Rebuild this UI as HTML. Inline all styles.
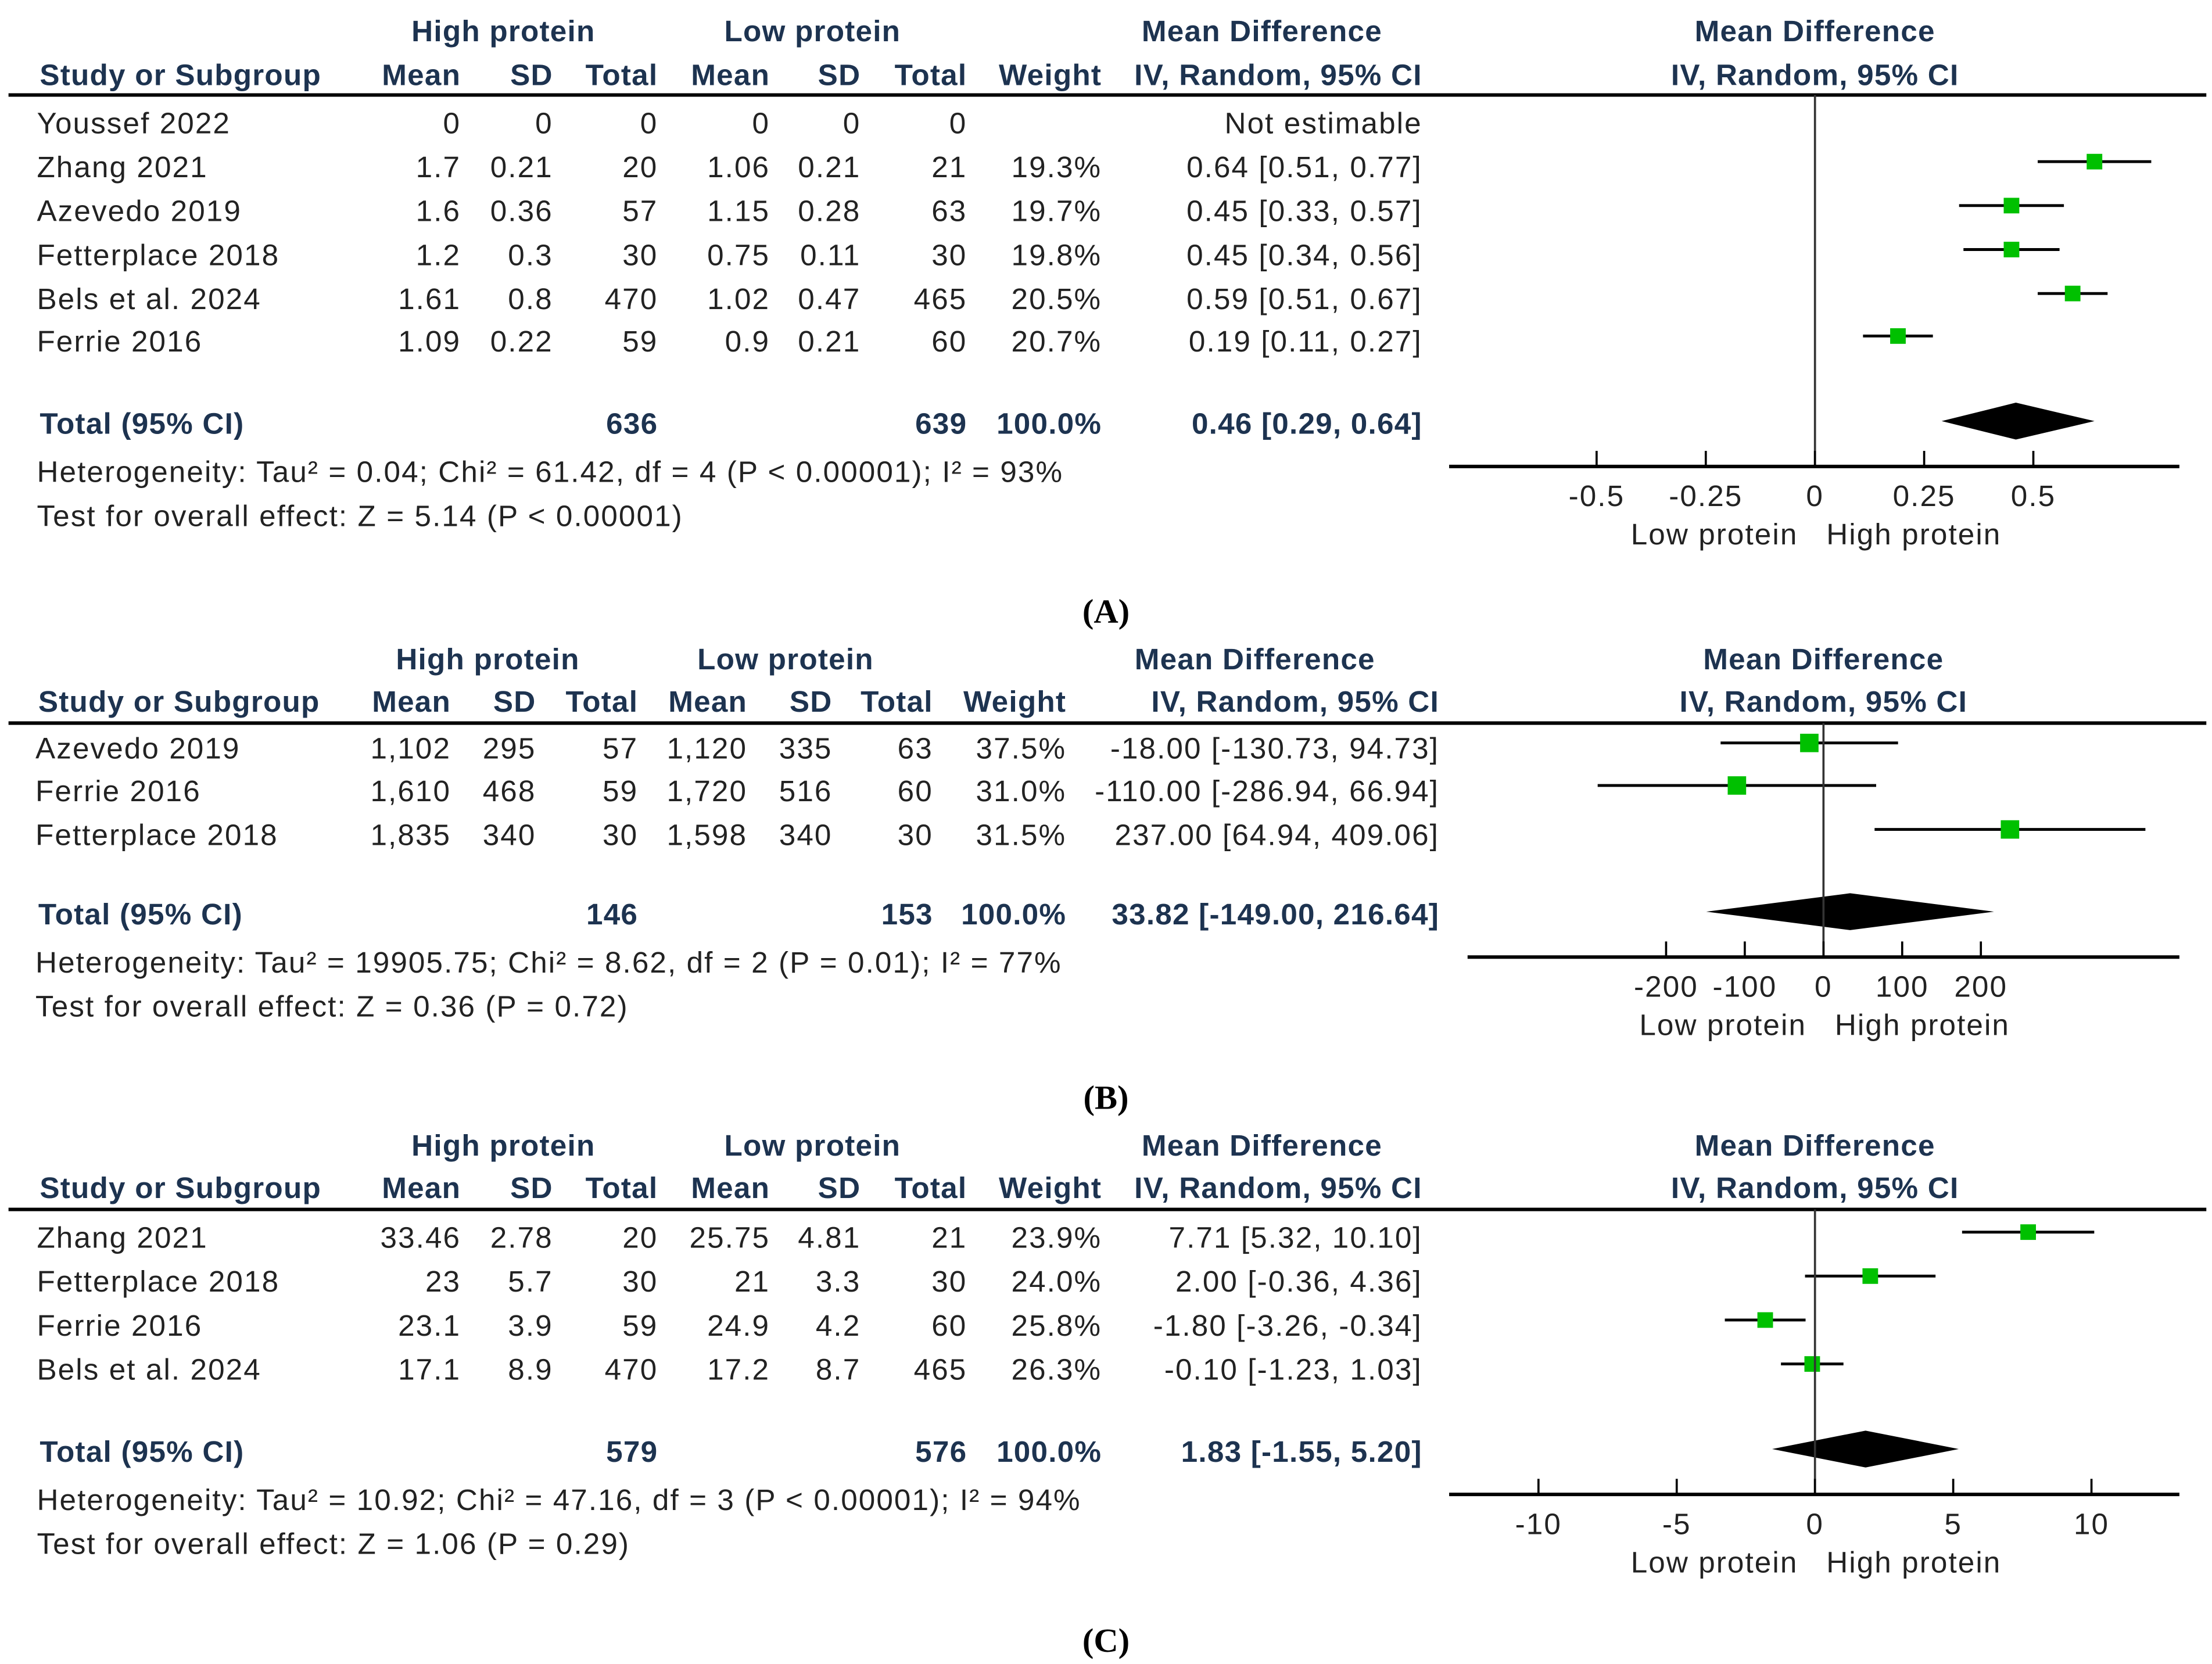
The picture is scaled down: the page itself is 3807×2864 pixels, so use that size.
<!DOCTYPE html>
<html><head><meta charset="utf-8"><style>
html,body{margin:0;padding:0;background:#fff;}
svg{display:block;}
text{font-family:"Liberation Sans",Arial,sans-serif;}
.h{font-weight:bold;fill:#1d3350;font-size:21px;letter-spacing:0.5px;}
.b{fill:#222;font-size:21px;letter-spacing:0.85px;}
.t{font-weight:bold;fill:#1d3350;font-size:21px;letter-spacing:0.5px;}
.cap{font-family:"Liberation Serif",serif;font-size:24px;font-weight:bold;fill:#000;}
</style></head><body>
<svg id="fig" width="3807" height="2864" viewBox="0 0 1560 1173.6" preserveAspectRatio="none" xmlns="http://www.w3.org/2000/svg"></svg>
<script>
// ---- Panel A data ----
const studiesA = ["Youssef 2022","Zhang 2021","Azevedo 2019","Fetterplace 2018","Bels et al. 2024","Ferrie 2016"];
const tableA = [["0","0","0","0","0","0","","Not estimable"],["1.7","0.21","20","1.06","0.21","21","19.3%","0.64 [0.51, 0.77]"],["1.6","0.36","57","1.15","0.28","63","19.7%","0.45 [0.33, 0.57]"],["1.2","0.3","30","0.75","0.11","30","19.8%","0.45 [0.34, 0.56]"],["1.61","0.8","470","1.02","0.47","465","20.5%","0.59 [0.51, 0.67]"],["1.09","0.22","59","0.9","0.21","60","20.7%","0.19 [0.11, 0.27]"]];
const estA = [null,0.64,0.45,0.45,0.59,0.19];
const lowA = [null,0.51,0.33,0.34,0.51,0.11];
const highA = [null,0.77,0.57,0.56,0.67,0.27];
const totalA = [0.46,0.29,0.64];
const ticksA = [-0.5,-0.25,0,0.25,0.5];
const tickLabelsA = ["-0.5","-0.25","0","0.25","0.5"];
// ---- Panel B data ----
const studiesB = ["Azevedo 2019","Ferrie 2016","Fetterplace 2018"];
const tableB = [["1,102","295","57","1,120","335","63","37.5%","-18.00 [-130.73, 94.73]"],["1,610","468","59","1,720","516","60","31.0%","-110.00 [-286.94, 66.94]"],["1,835","340","30","1,598","340","30","31.5%","237.00 [64.94, 409.06]"]];
const estB = [-18,-110,237];
const lowB = [-130.73,-286.94,64.94];
const highB = [94.73,66.94,409.06];
const totalB = [33.82,-149.00,216.64];
const ticksB = [-200,-100,0,100,200];
const tickLabelsB = ["-200","-100","0","100","200"];
// ---- Panel C data ----
const studiesC = ["Zhang 2021","Fetterplace 2018","Ferrie 2016","Bels et al. 2024"];
const tableC = [["33.46","2.78","20","25.75","4.81","21","23.9%","7.71 [5.32, 10.10]"],["23","5.7","30","21","3.3","30","24.0%","2.00 [-0.36, 4.36]"],["23.1","3.9","59","24.9","4.2","60","25.8%","-1.80 [-3.26, -0.34]"],["17.1","8.9","470","17.2","8.7","465","26.3%","-0.10 [-1.23, 1.03]"]];
const estC = [7.71,2.00,-1.80,-0.10];
const lowC = [5.32,-0.36,-3.26,-1.23];
const highC = [10.10,4.36,-0.34,1.03];
const totalC = [1.83,-1.55,5.20];
const ticksC = [-10,-5,0,5,10];
const tickLabelsC = ["-10","-5","0","5","10"];

const svg = document.getElementById('fig');
const NS = "http://www.w3.org/2000/svg";
function mk(tag, attrs, parent){const e=document.createElementNS(NS,tag);for(const k in attrs)e.setAttribute(k,attrs[k]);(parent||svg).appendChild(e);return e;}
function txt(x,y,s,cls,anchor,parent){const e=mk('text',{x:x,y:y,'class':cls,'text-anchor':anchor||'start'},parent);e.textContent=s;return e;}

function panel(cfg){
  const g=mk('g',{});
  
  
  const c=cfg.cols, y1=cfg.hy1, y2=cfg.hy2;
  txt(cfg.hpCenter,y1+7,"High protein","h","middle",g);
  txt(cfg.lpCenter,y1+7,"Low protein","h","middle",g);
  txt(cfg.mdCenter,y1+7,"Mean Difference","h","middle",g);
  txt(cfg.zeroX,y1+7,"Mean Difference","h","middle",g);
  txt(cfg.studyX,y2+7,"Study or Subgroup","h","start",g);
  const hdr=["Mean","SD","Total","Mean","SD","Total","Weight","IV, Random, 95% CI"];
  hdr.forEach((h,i)=>txt(c[i],y2+7,h,"h","end",g));
  txt(cfg.zeroX,y2+7,"IV, Random, 95% CI","h","middle",g);
  const hl=mk('line',{x1:6,x2:1556,y1:cfg.lineY,y2:cfg.lineY,stroke:'#000','stroke-width':2.5},g);
  
  
  const sx=v=>cfg.zeroX+v*cfg.ppu;
  cfg.studies.forEach((s,r)=>{
    const y=cfg.rowY[r];
    const rg=mk('g',{},g);
    
    
    txt(cfg.studyX-2,y+7,s,"b","start",rg);
    cfg.table[r].forEach((v,i)=>{if(v!=="")txt(c[i],y+7,v,"b","end",rg);});
    if(cfg.est[r]!==null){
      const l=mk('line',{x1:sx(cfg.low[r]),x2:sx(cfg.high[r]),y1:y-4,y2:y-4,stroke:'#000','stroke-width':2},rg);
      
      
      const q=mk('rect',{x:sx(cfg.est[r])-cfg.sq/2,y:y-4-cfg.sq/2,width:cfg.sq,height:cfg.sq,fill:'#00c000'},rg);
      
      
    }
  });
  const ty=cfg.totalY;
  txt(cfg.studyX,ty+7,"Total (95% CI)","t","start",g);
  txt(c[2],ty+7,cfg.totN[0],"t","end",g);
  txt(c[5],ty+7,cfg.totN[1],"t","end",g);
  txt(c[6],ty+7,"100.0%","t","end",g);
  txt(c[7],ty+7,cfg.totCI,"t","end",g);
  const t=cfg.total, dy=ty-2;
  const d=mk('polygon',{points:`${sx(t[1])},${dy} ${sx(t[0])},${dy-13} ${sx(t[2])},${dy} ${sx(t[0])},${dy+13}`,fill:'#000'},g);
  
  
  txt(cfg.studyX-2,cfg.hetY+7,cfg.het,"b","start",g);
  txt(cfg.studyX-2,cfg.hetY+38,cfg.test,"b","start",g);
  const ay=cfg.axisY;
  const z=mk('line',{x1:cfg.zeroX,x2:cfg.zeroX,y1:cfg.lineY,y2:ay,stroke:'#333','stroke-width':1.5},g);
  
  
  const ax=mk('line',{x1:cfg.axX1,x2:cfg.axX2,y1:ay,y2:ay,stroke:'#000','stroke-width':2.5},g);
  
  
  cfg.ticks.forEach((v,i)=>{
    const tk=mk('line',{x1:sx(v),x2:sx(v),y1:ay-11,y2:ay,stroke:'#000','stroke-width':1.5},g);
    
    
    const tl=txt(sx(v),ay+28,cfg.tickLabels[i],"b","middle",g);
    
    
  });
  txt(cfg.zeroX-12,ay+55,"Low protein","b","end",g);
  txt(cfg.zeroX+8,ay+55,"High protein","b","start",g);
  const cap=txt(780,cfg.capY+9,cfg.cap,"cap","middle",g);
  
  
}

panel({name:'panel-a',cols:[325,390,464,543,607,682,777,1003],hpCenter:355,lpCenter:573,mdCenter:890,studyX:28,
  hy1:22,hy2:53,lineY:67,rowY:[87,118,149,180,211,241],studies:studiesA,table:tableA,est:estA,low:lowA,high:highA,
  zeroX:1280,ppu:308,sq:11,totalY:299,totN:["636","639"],totCI:"0.46 [0.29, 0.64]",total:totalA,
  het:"Heterogeneity: Tau² = 0.04; Chi² = 61.42, df = 4 (P < 0.00001); I² = 93%",test:"Test for overall effect: Z = 5.14 (P < 0.00001)",
  hetY:333,axisY:329,axX1:1022,axX2:1537,ticks:ticksA,tickLabels:tickLabelsA,cap:"(A)",capY:430});
panel({name:'panel-b',cols:[318,378,450,527,587,658,752,1015],hpCenter:344,lpCenter:554,mdCenter:885,studyX:27,
  hy1:465,hy2:495,lineY:510,rowY:[528,558,589],studies:studiesB,table:tableB,est:estB,low:lowB,high:highB,
  zeroX:1286,ppu:0.555,sq:13,totalY:645,totN:["146","153"],totCI:"33.82 [-149.00, 216.64]",total:totalB,
  het:"Heterogeneity: Tau² = 19905.75; Chi² = 8.62, df = 2 (P = 0.01); I² = 77%",test:"Test for overall effect: Z = 0.36 (P = 0.72)",
  hetY:679,axisY:675,axX1:1035,axX2:1537,ticks:ticksB,tickLabels:tickLabelsB,cap:"(B)",capY:773});
panel({name:'panel-c',cols:[325,390,464,543,607,682,777,1003],hpCenter:355,lpCenter:573,mdCenter:890,studyX:28,
  hy1:808,hy2:838,lineY:853,rowY:[873,904,935,966],studies:studiesC,table:tableC,est:estC,low:lowC,high:highC,
  zeroX:1280,ppu:19.5,sq:11,totalY:1024,totN:["579","576"],totCI:"1.83 [-1.55, 5.20]",total:totalC,
  het:"Heterogeneity: Tau² = 10.92; Chi² = 47.16, df = 3 (P < 0.00001); I² = 94%",test:"Test for overall effect: Z = 1.06 (P = 0.29)",
  hetY:1058,axisY:1054,axX1:1022,axX2:1537,ticks:ticksC,tickLabels:tickLabelsC,cap:"(C)",capY:1156});
</script>
</body></html>
